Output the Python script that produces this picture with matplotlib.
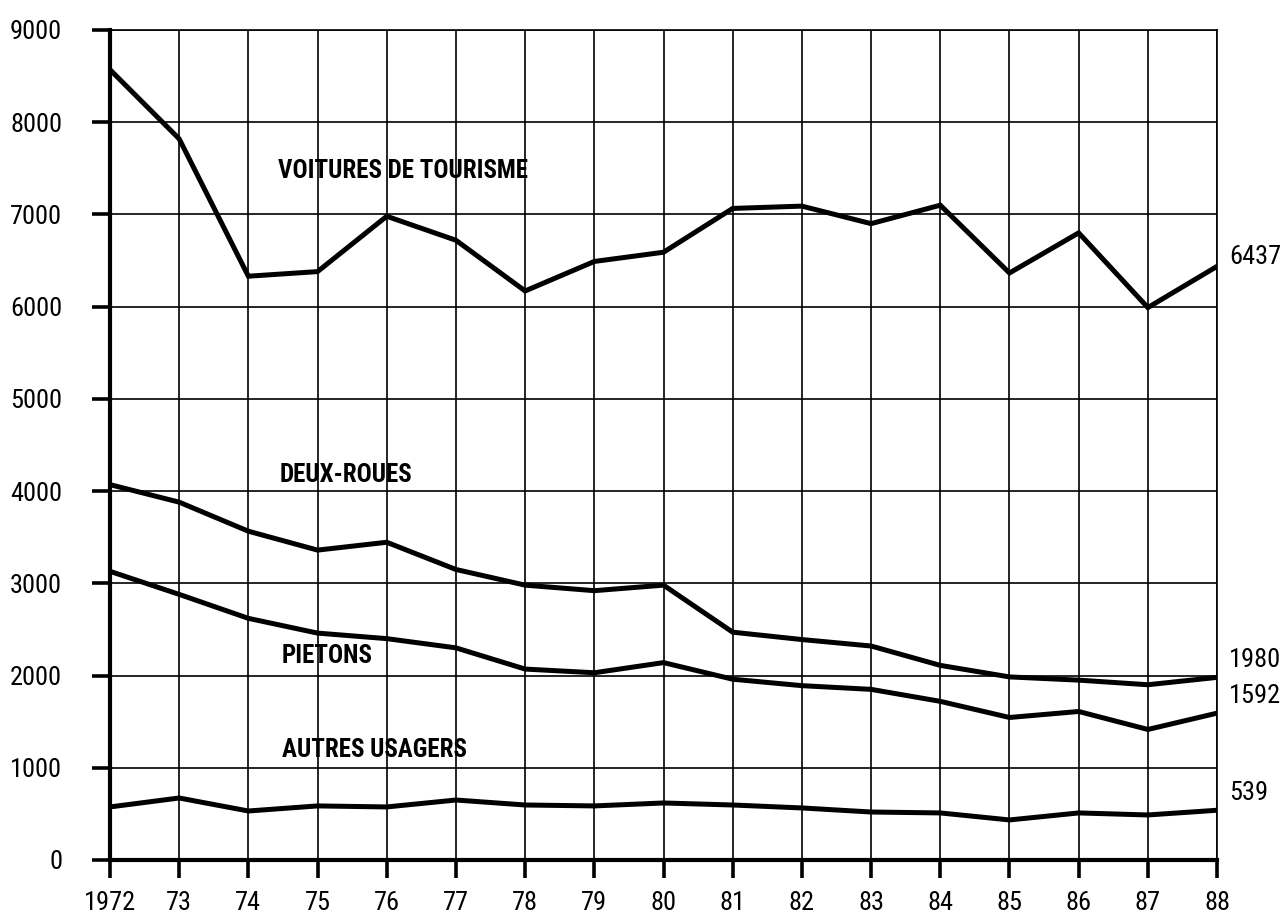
"""Tués par catégorie d'usagers, 1972-1988."""

import matplotlib
matplotlib.use('Agg')
import matplotlib.pyplot as plt

plt.rcParams['font.family'] = ['Roboto Condensed', 'Roboto', 'DejaVu Sans']

years = list(range(1972, 1989))
year_labels = ['1972'] + [str(y)[2:] for y in years[1:]]

voitures = [8570, 7820, 6330, 6380, 6980, 6720, 6170, 6490, 6590,
            7065, 7090, 6900, 7100, 6365, 6800, 5990, 6437]
deux_roues = [4070, 3880, 3565, 3360, 3445, 3150, 2980, 2920, 2980,
              2470, 2390, 2320, 2110, 1985, 1950, 1900, 1980]
pietons = [3130, 2880, 2620, 2460, 2400, 2300, 2070, 2030, 2140,
           1960, 1890, 1850, 1720, 1545, 1610, 1415, 1592]
autres = [575, 672, 531, 586, 575, 650, 596, 586, 618,
          596, 564, 520, 510, 434, 510, 488, 539]

series = [voitures, deux_roues, pietons, autres]
names = ['VOITURES DE TOURISME', 'DEUX-ROUES', 'PIETONS', 'AUTRES USAGERS']
# where each name sits (year, value of baseline)
name_pos = [(1974.43, 7400), (1974.45, 4100), (1974.48, 2140), (1974.48, 1120)]
# where each end value sits
end_pos = [6540, 2170, 1779, 727]

fig = plt.figure(figsize=(12.83, 9.17), dpi=100)
ax = fig.add_axes([0.0857, 0.0622, 0.8629, 0.9051])

for s in series:
    ax.plot(years, s, color='black', lw=3.6, solid_joinstyle='miter', zorder=3)

for name, (x, y) in zip(names, name_pos):
    ax.text(x, y, name, fontsize=18, fontweight='bold', va='baseline', ha='left')

for s, y in zip(series, end_pos):
    ax.text(1988.17, y, str(s[-1]), fontsize=19, va='center', ha='left', clip_on=False)

ax.set_xlim(1972, 1988)
ax.set_ylim(0, 9000)
ax.set_xticks(years)
ax.set_xticklabels(year_labels)
ax.set_yticks(range(0, 9001, 1000))
ax.grid(True, color='black', lw=1.2)
ax.set_axisbelow(True)

ax.spines['left'].set_linewidth(3)
ax.spines['bottom'].set_linewidth(3)
ax.spines['top'].set_linewidth(1.2)
ax.spines['right'].set_linewidth(1.2)
ax.tick_params(direction='out', length=13, width=2.6, labelsize=19, pad=9)
ax.tick_params(axis='y', pad=21.5)

plt.savefig('out.png', dpi=100)
